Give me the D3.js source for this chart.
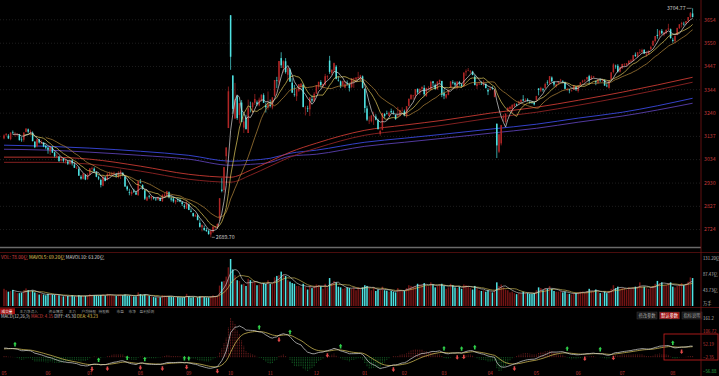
<!DOCTYPE html>
<html>
<head>
<meta charset="utf-8">
<script src="https://cdn.jsdelivr.net/npm/d3@7"></script>
<style>
  html, body { margin: 0; padding: 0; background: #000; overflow: hidden; }
  svg { display: block; font-family: "Noto Sans CJK SC", "Noto Sans", sans-serif; }
</style>
</head>
<body>
<svg id="chart" width="719" height="376"></svg>
<script>
// --- 1. DATA (daily candles) ---
const opens = [
  3128,3144,3140,3125,3156,3148,3146,3145,3123,3122,3157,3168,3153,3153,3114,3093,3124,3105,3110,3095,
  3087,3070,3088,3066,3046,3048,3030,3037,3025,3025,3016,3030,3012,2995,2993,2958,2949,2966,2947,
  2967,2994,2994,2978,2956,2944,2918,2955,2945,2966,2968,2971,2969,2957,2971,2974,2959,2915,2890,2882,2896,2888,2877,
  2936,2921,2897,2853,2873,2863,2865,2861,2857,2864,2850,2870,2875,2889,2862,2862,2845,2859,2855,2845,2830,2817,
  2836,2807,2797,2782,2786,2754,2734,2731,2722,2718,2702,2714,2733,2738,2770,2901,2899,3049,3174,
  3674,3407,3216,3315,3232,3287,3176,3220,3152,3270,3266,3286,3288,3275,3296,3320,3274,3264,
  3277,3265,3317,3385,3376,3484,3440,3470,3410,3433,3375,3325,3315,3340,3357,3365,3262,3262,3257,3302,3293,
  3326,3356,3378,3361,3366,3400,3473,3418,3429,3446,3387,3381,3365,3353,3372,3365,3356,3390,3391,3395,3392,3403,
  3347,3261,3207,3204,3228,3225,3209,3148,3166,3236,3239,3227,3249,3246,3233,3226,3229,3251,
  3248,3227,3271,3303,3318,3317,3348,3332,3348,3352,3317,3349,3344,3381,3365,3346,3378,3383,
  3330,3309,3321,3352,3377,3374,3352,3378,3367,3359,3421,3428,3425,3425,3402,3360,3368,3370,3367,3370,3343,
  3342,3351,3311,3193,3069,3106,3219,3201,3248,3259,3259,3270,3278,3284,3290,3301,3297,3300,3289,3289,3287,
  3297,3349,3340,3346,3352,3376,3372,3398,3378,3359,3372,3385,3382,3377,3343,3346,3338,3344,3358,
  3338,3364,3379,3382,3390,3404,3390,3400,3382,3374,3388,3384,3387,3362,3352,3390,3422,3450,3450,3424,
  3439,3455,3453,3459,3468,3472,3499,3490,3510,3511,3521,3500,3501,3524,3540,3560,3587,3585,3605,3588,3594,3610,3612,
  3565,3559,3586,3617,3634,3636,3638,3650,3667,3682
];
const highs = [
  3146,3152,3147,3155,3163,3157,3152,3148,3134,3155,3174,3172,3167,3159,3115,3125,3126,3120,3111,3100,
  3090,3092,3093,3070,3061,3050,3040,3041,3037,3033,3032,3035,3022,3005,3002,2965,2973,2970,2974,
  2996,3003,3000,2983,2963,2950,2962,2961,2976,2981,2980,2981,2975,2983,2990,2979,2961,2919,2905,2898,2905,2896,2939,
  2948,2925,2900,2871,2878,2873,2871,2866,2870,2867,2882,2887,2896,2893,2872,2869,2856,2866,2864,2849,2837,2852,
  2839,2817,2799,2794,2794,2768,2747,2742,2731,2723,2722,2740,2739,2751,2863,2952,3001,3088,3358,
  3674.4,3407,3374,3320,3285,3298,3222,3233,3300,3291,3289,3325,3296,3309,3323,3328,3287,3336,
  3300,3311,3387,3401,3471,3510,3474,3484,3443,3439,3395,3365,3347,3368,3374,3371,3272,3273,3310,3319,3333,
  3364,3379,3386,3371,3414,3408,3494,3434,3464,3453,3403,3385,3384,3382,3385,3375,3394,3397,3399,3423,3410,3407,
  3351,3273,3226,3230,3246,3235,3216,3167,3241,3240,3251,3247,3260,3252,3233,3268,3255,3266,
  3256,3270,3304,3322,3321,3346,3349,3350,3359,3364,3352,3360,3384,3383,3371,3381,3388,3383,
  3345,3325,3345,3381,3386,3380,3381,3383,3373,3420,3434,3440,3431,3428,3411,3377,3381,3381,3386,3371,3351,
  3357,3359,3344,3194,3150,3188,3235,3239,3267,3271,3280,3285,3283,3295,3300,3320,3306,3306,3297,3293,3291,
  3317,3351,3357,3352,3375,3386,3404,3403,3382,3371,3381,3392,3386,3380,3353,3347,3345,3364,3358,
  3362,3377,3388,3391,3401,3410,3408,3405,3385,3391,3394,3390,3390,3373,3385,3421,3461,3455,3457,3446,
  3459,3462,3462,3475,3479,3498,3509,3510,3524,3526,3523,3513,3517,3539,3563,3582,3613,3606,3613,3601,3610,3636,3615,
  3574,3584,3618,3634,3645,3645,3649,3666,3688,3704.77
];
const lows = [
  3124,3138,3125,3120,3146,3136,3137,3119,3113,3113,3155,3150,3141,3115,3085,3088,3105,3104,3089,3080,
  3060,3055,3063,3044,3040,3024,3025,3021,3017,3010,3011,3008,2997,2993,2962,2945,2946,2943,2945,
  2965,2986,2979,2956,2943,2911,2916,2938,2942,2961,2962,2966,2954,2951,2948,2960,2913,2895,2876,2874,2886,2878,2873,
  2928,2900,2855,2850,2861,2853,2857,2851,2853,2850,2846,2866,2871,2862,2848,2843,2836,2846,2845,2828,2815,2816,
  2810,2800,2779,2781,2765,2733,2716,2718,2714,2701,2689.7,2709,2727,2727,2761,2889,2888,3017,3174,
  3432,3237,3215,3210,3194,3200,3152,3168,3152,3243,3240,3276,3272,3270,3291,3286,3243,3255,
  3265,3257,3313,3351,3362,3440,3420,3415,3386,3378,3329,3313,3294,3334,3343,3266,3230,3245,3227,3288,3290,
  3326,3346,3354,3350,3362,3389,3414,3408,3425,3390,3380,3351,3358,3350,3362,3336,3350,3352,3377,3392,3383,3349,
  3242,3205,3192,3199,3188,3208,3168,3140,3164,3219,3234,3227,3240,3233,3210,3222,3226,3249,
  3226,3220,3271,3299,3300,3305,3325,3320,3339,3315,3312,3340,3341,3360,3345,3343,3366,3311,
  3302,3304,3319,3352,3367,3357,3346,3362,3354,3356,3405,3426,3416,3408,3363,3347,3366,3365,3359,3350,3320,
  3342,3344,3311,3041,3063,3097,3203,3194,3248,3255,3240,3267,3271,3276,3286,3293,3291,3291,3282,3281,3274,
  3297,3319,3333,3335,3348,3364,3368,3379,3358,3353,3366,3378,3372,3347,3337,3328,3336,3343,3338,
  3331,3363,3373,3375,3386,3367,3388,3395,3364,3370,3377,3378,3362,3355,3348,3390,3416,3437,3420,3420,
  3436,3447,3446,3451,3465,3472,3489,3486,3502,3508,3502,3490,3501,3520,3538,3553,3570,3576,3589,3581,3592,3608,3570,
  3552,3551,3586,3613,3620,3628,3633,3641,3660,3664
];
const closes = [
  3141,3148,3128,3154,3155,3148,3146,3120,3122,3154,3171,3158,3159,3116,3089,3124,3110,3111,3092,3087,
  3078,3091,3065,3049,3051,3028,3037,3029,3033,3016,3030,3018,2998,2998,2963,2950,2973,2946,2967,
  2995,2997,2982,2958,2950,2922,2959,2939,2970,2971,2974,2976,2963,2977,2982,2964,2915,2902,2887,2891,2892,2879,2939,
  2932,2905,2861,2867,2870,2870,2862,2858,2868,2851,2877,2879,2894,2867,2857,2849,2854,2856,2848,2837,2823,2842,
  2811,2803,2784,2788,2766,2736,2744,2722,2717,2704,2717,2736,2737,2749,2863,2896,3001,3088,3337,
  3490,3259,3302,3218,3284,3201,3203,3169,3262,3268,3286,3303,3280,3300,3322,3286,3266,3280,
  3272,3310,3387,3384,3471,3452,3470,3422,3439,3380,3331,3324,3346,3368,3370,3267,3264,3260,3310,3296,3326,
  3364,3379,3365,3369,3404,3403,3423,3432,3462,3392,3386,3361,3382,3370,3368,3351,3394,3393,3398,3400,3407,3352,
  3263,3211,3207,3230,3230,3211,3169,3161,3241,3227,3236,3242,3244,3243,3214,3230,3253,3251,
  3229,3271,3304,3322,3318,3346,3332,3347,3356,3324,3352,3351,3379,3373,3346,3380,3388,3321,
  3317,3324,3342,3381,3373,3366,3380,3372,3359,3420,3426,3430,3426,3409,3365,3370,3370,3369,3374,3351,3336,
  3348,3350,3342,3097,3146,3187,3224,3238,3263,3268,3276,3280,3277,3291,3300,3296,3297,3295,3288,3287,3279,
  3316,3343,3352,3342,3369,3375,3404,3381,3367,3368,3380,3388,3380,3348,3347,3341,3340,3363,3347,
  3362,3376,3384,3385,3400,3385,3402,3403,3377,3389,3387,3389,3362,3360,3382,3421,3456,3448,3424,3444,
  3458,3455,3461,3472,3473,3497,3493,3510,3510,3520,3505,3504,3517,3534,3560,3582,3582,3606,3594,3598,3610,3616,3573,
  3560,3583,3618,3634,3640,3635,3648,3666,3683,3666
];
const volumes = [
  48,44,40,42,45,40,36,36,37,44,49,44,41,43,38,36,32,34,32,30,
  34,33,32,31,31,30,27,27,29,28,27,30,27,27,30,28,28,28,29,
  33,30,30,30,29,31,32,29,34,32,30,28,28,32,32,30,32,29,29,28,27,27,38,
  33,30,32,28,28,26,25,24,25,24,30,29,28,27,26,25,24,25,24,24,25,34,
  27,24,25,23,24,27,28,25,24,24,27,30,28,29,57,68,70,82,108,
  131.2,102,86,72,70,60,62,56,76,72,66,70,58,60,62,64,62,72,
  62,62,80,84,86,96,88,84,72,68,64,62,56,56,52,62,54,46,56,50,56,
  60,58,55,48,62,52,78,64,70,66,54,52,48,50,52,50,48,52,44,52,48,52,
  58,56,50,44,52,42,46,44,54,44,43,40,42,40,38,50,44,42,
  42,50,58,56,54,56,62,60,60,64,56,55,66,60,52,56,60,62,
  56,48,52,62,58,52,50,54,48,60,58,54,50,46,56,50,44,42,44,40,44,
  40,38,44,66,56,60,52,46,44,38,40,36,33,36,35,40,36,36,34,34,36,
  44,52,50,44,50,48,56,48,42,40,40,42,38,40,34,34,32,36,36,
  38,40,40,38,42,48,42,40,46,40,36,36,40,36,42,48,58,50,54,48,
  50,50,46,52,48,52,54,54,66,54,54,50,48,52,56,62,70,64,66,58,58,64,66,
  54,52,56,60,64,58,62,68,80,78
];

// month tick labels and the trading-day index where each month starts
const monthLabels = ["05","06","07","08","09","10","11","12","01","02","03","04","05","06","07","08"];
const monthStart  = [0, 20, 39, 62, 84, 103, 121, 142, 164, 182, 200, 221, 242, 261, 281, 304];

// price axis tick labels
const priceTicks = [3654, 3550, 3447, 3344, 3240, 3137, 3034, 2930, 2827, 2724];

// long moving averages, read at sample days
const longIdx = [0, 20, 39, 62, 84, 103, 112, 121, 130, 142, 164, 182, 200, 221, 242, 261, 281, 313];
const maRedA  = [3045,3045,3036,3005,2969,2956,2987,3027,3067,3107,3164,3187,3209,3240,3266,3297,3333,3399];
const maRedB  = [3022,3022,3014,2983,2947,2934,2965,3005,3045,3085,3142,3164,3187,3218,3244,3275,3311,3377];
const maBlueA = [3098,3093,3085,3071,3053,3027,3031,3040,3062,3076,3111,3129,3147,3169,3191,3218,3244,3306];
const maBlueB = [3080,3076,3067,3053,3036,3009,3013,3022,3049,3058,3093,3111,3129,3151,3173,3200,3227,3284];

// MACD state just before the first day
const macdSeed = { ema12: 3105, ema26: 3068, dea: 33 };

// tab captions
const leftTabs  = ["成交量", "主力净流入", "资金博弈", "主力", "户均持股", "持股数", "市盈", "市净", "盈利预测"];
const rightTabs = ["修改参数", "默认参数", "指标说明"];

// --- 2. DERIVED SERIES ---
const n = closes.length;
const rows = d3.range(n).map(i => ({ i, o: opens[i], h: highs[i], l: lows[i], c: closes[i], v: volumes[i] }));

function sma(arr, k) {
  return arr.map((d, i) => i < k - 1 ? null : d3.mean(arr.slice(i - k + 1, i + 1)));
}
const ma5 = sma(closes, 5), ma10 = sma(closes, 10), ma20 = sma(closes, 20);
const mavol5 = sma(volumes, 5), mavol10 = sma(volumes, 10);

let e12 = macdSeed.ema12, e26 = macdSeed.ema26, dea = macdSeed.dea;
const diffs = [], deas = [], macds = [];
closes.forEach(c => {
  e12 = (2 * c + 11 * e12) / 13;
  e26 = (2 * c + 25 * e26) / 27;
  const diff = e12 - e26;
  dea = (2 * diff + 8 * dea) / 10;
  diffs.push(diff); deas.push(dea); macds.push(2 * (diff - dea));
});

// --- 3. SCALES ---
const svg = d3.select("#chart");
const axisX = 701;
const x = d3.scaleBand().domain(d3.range(n)).range([2.9, 693.7]);
const cx = i => x(i) + x.bandwidth() / 2;
const bw = 1.5;

const yP = d3.scaleLinear().domain([d3.min(lows), d3.max(highs)]).range([237.3, 8.3]);
const yV = d3.scaleLinear().domain([0, d3.max(volumes)]).range([306, 259]);
const macdAll = diffs.concat(deas, macds);
const yM = d3.scaleLinear().domain(d3.extent(macdAll)).range([371, 318]);

const UP = "#b02626", DOWN = "#4fe3e3";
const fmt2 = d3.format(".2f");

svg.append("rect").attr("width", 719).attr("height", 376).attr("fill", "#000");

// --- 4. PRICE PANEL ---
const grid = svg.append("g");
priceTicks.forEach(v => {
  grid.append("line").attr("x1", 0).attr("x2", axisX).attr("y1", yP(v)).attr("y2", yP(v))
    .attr("stroke", "#1e1e1e").attr("stroke-dasharray", "1,2");
  grid.append("text").attr("x", axisX + 3).attr("y", yP(v)).attr("dy", "0.35em")
    .attr("fill", "#c23a3a").style("font-size", "5.2px").text(v);
});

// long MAs
const longLine = d3.line().x((d, k) => cx(longIdx[k])).y(d => yP(d)).curve(d3.curveMonotoneX);
[[maBlueB, "#5a3fb0"], [maBlueA, "#3a48e0"], [maRedB, "#8e2424"], [maRedA, "#c83a32"]].forEach(([s, col]) => {
  svg.append("path").attr("d", longLine(s)).attr("fill", "none").attr("stroke", col).attr("stroke-width", 0.9);
});

// candles
const cg = svg.append("g");
cg.selectAll("line").data(rows).enter().append("line")
  .attr("x1", d => cx(d.i)).attr("x2", d => cx(d.i))
  .attr("y1", d => yP(d.h)).attr("y2", d => yP(d.l))
  .attr("stroke", d => d.c >= d.o ? UP : DOWN).attr("stroke-width", 0.7);
cg.selectAll("rect").data(rows).enter().append("rect")
  .attr("x", d => cx(d.i) - bw / 2).attr("width", bw)
  .attr("y", d => yP(Math.max(d.o, d.c)))
  .attr("height", d => Math.max(0.6, Math.abs(yP(d.o) - yP(d.c))))
  .attr("fill", d => d.c >= d.o ? UP : DOWN);

// short MAs
const maLine = d3.line().defined(d => d != null).x((d, i) => cx(i)).y(d => yP(d));
[[ma20, "#b88a3c"], [ma10, "#e2cc5c"], [ma5, "#d8d8d8"]].forEach(([s, col]) => {
  svg.append("path").attr("d", maLine(s)).attr("fill", "none").attr("stroke", col).attr("stroke-width", 0.7);
});

// high / low marks
const hiIdx = d3.maxIndex(highs), loIdx = d3.minIndex(lows);
svg.append("line").attr("x1", cx(hiIdx) - 6).attr("x2", cx(hiIdx) - 1)
  .attr("y1", yP(highs[hiIdx])).attr("y2", yP(highs[hiIdx])).attr("stroke", "#bbb").attr("stroke-width", 0.6);
svg.append("text").attr("x", cx(hiIdx) - 7).attr("y", yP(highs[hiIdx])).attr("dy", "0.35em")
  .attr("text-anchor", "end").attr("fill", "#ccc").style("font-size", "5.2px").text(fmt2(highs[hiIdx]));
svg.append("line").attr("x1", cx(loIdx) + 1).attr("x2", cx(loIdx) + 4)
  .attr("y1", yP(lows[loIdx])).attr("y2", yP(lows[loIdx])).attr("stroke", "#bbb").attr("stroke-width", 0.6);
svg.append("text").attr("x", cx(loIdx) + 5).attr("y", yP(lows[loIdx])).attr("dy", "0.35em")
  .attr("fill", "#ccc").style("font-size", "5.2px").text(fmt2(lows[loIdx]));

// separators
svg.append("line").attr("x1", 0).attr("x2", axisX).attr("y1", 247.5).attr("y2", 247.5).attr("stroke", "#6a6a6a").attr("stroke-width", 1.5);
[252.5, 307.5].forEach(y => svg.append("line").attr("x1", 0).attr("x2", 719).attr("y1", y).attr("y2", y)
  .attr("stroke", "#4a0d0d").attr("stroke-width", 1));

// --- 5. VOLUME PANEL ---
const vg = svg.append("g");
vg.selectAll("rect").data(rows).enter().append("rect")
  .attr("x", d => cx(d.i) - bw / 2).attr("width", bw)
  .attr("y", d => yV(d.v)).attr("height", d => yV(0) - yV(d.v))
  .attr("fill", d => d.c >= d.o ? "#731414" : DOWN);
const volLine = d3.line().defined(d => d != null).x((d, i) => cx(i)).y(d => yV(d));
[[mavol10, "#e2cc5c"], [mavol5, "#d8d8d8"]].forEach(([s, col]) => {
  svg.append("path").attr("d", volLine(s)).attr("fill", "none").attr("stroke", col).attr("stroke-width", 0.6);
});
const vmax = d3.max(volumes);
[vmax, vmax * 2 / 3, vmax / 3].forEach(v => {
  svg.append("text").attr("x", axisX + 2).attr("y", yV(v)).attr("dy", "0.35em")
    .attr("fill", "#bdbdbd").style("font-size", "4.2px").text(fmt2(v) + "亿");
});
svg.append("text").attr("x", axisX + 2).attr("y", 304).attr("dy", "0.35em")
  .attr("fill", "#bdbdbd").style("font-size", "4.2px").text("万手");

const vHead = svg.append("text").attr("x", 1).attr("y", 257.5).attr("dy", "0.35em").style("font-size", "4.6px");
vHead.append("tspan").attr("fill", "#d84040").text("VOL: " + fmt2(volumes[n - 1]) + "亿  ");
vHead.append("tspan").attr("fill", "#e2cc5c").text("MAVOL5: " + fmt2(mavol5[n - 1]) + "亿  ");
vHead.append("tspan").attr("fill", "#d8d8d8").text("MAVOL10: " + fmt2(mavol10[n - 1]) + "亿");

// --- 6. TABS ---
const tabX = [0, 18, 47, 67, 80, 97, 115, 127, 138];
leftTabs.forEach((t, k) => {
  if (k === 0) svg.append("rect").attr("x", 0).attr("y", 308.3).attr("width", 15).attr("height", 6).attr("fill", "#a01010");
  svg.append("text").attr("x", tabX[k] + 1.5).attr("y", 311.3).attr("dy", "0.35em")
    .attr("fill", k === 0 ? "#fff" : "#9a9a9a").style("font-size", "3.7px").text(t);
});
rightTabs.forEach((t, k) => {
  const x0 = 637 + k * 22.5;
  svg.append("rect").attr("x", x0).attr("y", 312).attr("width", 20).attr("height", 7)
    .attr("fill", k === 1 ? "#a01010" : "#161616").attr("stroke", "#3a3a3a").attr("stroke-width", 0.5);
  svg.append("text").attr("x", x0 + 10).attr("y", 315.5).attr("dy", "0.35em").attr("text-anchor", "middle")
    .attr("fill", k === 1 ? "#fff" : "#aaa").style("font-size", "4.3px").text(t);
});

// --- 7. MACD PANEL ---
const mHead = svg.append("text").attr("x", 1).attr("y", 316.3).attr("dy", "0.35em").style("font-size", "4.3px");
mHead.append("tspan").attr("fill", "#d0d0d0").text("MACD(12,26,9)  ");
mHead.append("tspan").attr("fill", "#d84040").text("MACD: " + fmt2(macds[n - 1]) + "  ");
mHead.append("tspan").attr("fill", "#d0d0d0").text("DIFF: " + fmt2(diffs[n - 1]) + "  ");
mHead.append("tspan").attr("fill", "#e2cc5c").text("DEA: " + fmt2(deas[n - 1]));

const hg = svg.append("g");
hg.selectAll("line").data(macds).enter().append("line")
  .attr("x1", (d, i) => cx(i)).attr("x2", (d, i) => cx(i))
  .attr("y1", yM(0)).attr("y2", d => yM(d))
  .attr("stroke", d => d >= 0 ? "#b83030" : "#1f9c3c").attr("stroke-width", 0.6)
  .attr("stroke-dasharray", "1,0.6");
const mLine = d3.line().x((d, i) => cx(i)).y(d => yM(d));
svg.append("path").attr("d", mLine(deas)).attr("fill", "none").attr("stroke", "#e2cc5c").attr("stroke-width", 0.7);
svg.append("path").attr("d", mLine(diffs)).attr("fill", "none").attr("stroke", "#d8d8d8").attr("stroke-width", 0.7);

// cross markers
for (let i = 1; i < n; i++) {
  const gold = diffs[i - 1] <= deas[i - 1] && diffs[i] > deas[i];
  const dead = diffs[i - 1] >= deas[i - 1] && diffs[i] < deas[i];
  const px = cx(i), py = yM(diffs[i]);
  if (dead) {
    svg.append("path").attr("d", `M${px},${py - 7} l1.8,2.4 h-1 v2.2 h-1.6 v-2.2 h-1 z`).attr("fill", "#2fd04a");
  } else if (gold) {
    svg.append("path").attr("d", `M${px},${py + 7} l1.8,-2.4 h-1 v-2.2 h-1.6 v2.2 h-1 z`).attr("fill", "#e04848");
  }
}

const [mMin, mMax] = yM.domain();
d3.range(5).map(k => mMax - k * (mMax - mMin) / 4).forEach((v, k) => {
  svg.append("text").attr("x", axisX + 2).attr("y", yM(v)).attr("dy", "0.35em")
    .attr("fill", k === 4 ? "#2fb04a" : (k === 0 ? "#bdbdbd" : "#c23a3a")).style("font-size", "4.4px")
    .text(k === 0 ? d3.format(".1f")(v) : fmt2(v));
});
svg.append("rect").attr("x", 664).attr("y", 334).attr("width", 54).attr("height", 26)
  .attr("fill", "none").attr("stroke", "#d02020").attr("stroke-width", 0.8);

// --- 8. AXES / MONTHS ---
svg.append("line").attr("x1", axisX).attr("x2", axisX).attr("y1", 0).attr("y2", 376).attr("stroke", "#7a1414").attr("stroke-width", 0.8);
monthLabels.forEach((m, k) => {
  svg.append("text").attr("x", cx(monthStart[k])).attr("y", 373.5).attr("dy", "0.35em")
    .attr("text-anchor", "middle").attr("fill", "#c23a3a").style("font-size", "4.6px").text(m);
});
</script>
</body>
</html>
